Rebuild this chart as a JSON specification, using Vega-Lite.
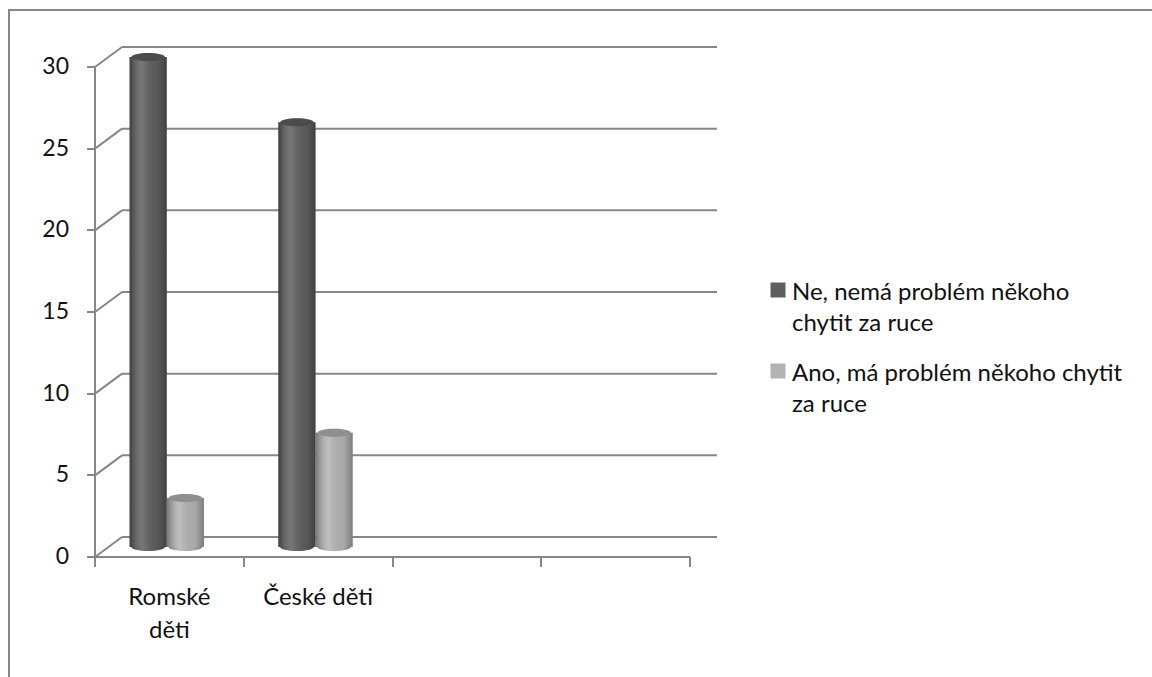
{
  "$schema": "https://vega.github.io/schema/vega-lite/v6.json",
  "width": 1160,
  "height": 680,
  "autosize": {"type": "none"},
  "padding": {"left": 9, "top": 10, "right": 0, "bottom": 0},
  "background": "white",
  "datasets": {
    "odpovedi": [
      {"skupina": "Romské děti", "odpoved": "Ne, nemá problém někoho chytit za ruce", "pocet": 30},
      {"skupina": "Romské děti", "odpoved": "Ano, má problém někoho chytit za ruce", "pocet": 3},
      {"skupina": "České děti", "odpoved": "Ne, nemá problém někoho chytit za ruce", "pocet": 26},
      {"skupina": "České děti", "odpoved": "Ano, má problém někoho chytit za ruce", "pocet": 7}
    ],
    "mrizka": [
      {"hodnota": 0}, {"hodnota": 5}, {"hodnota": 10}, {"hodnota": 15},
      {"hodnota": 20}, {"hodnota": 25}, {"hodnota": 30}
    ]
  },
  "layer": [
    {
      "data": {"name": "mrizka"},
      "mark": {"type": "rule", "color": "#878787", "strokeWidth": 2, "xOffset": 27, "x2Offset": 27, "yOffset": -20, "y2Offset": -20},
      "encoding": {
        "x": {"datum": "Romské děti", "bandPosition": 0, "type": "nominal",
              "scale": {"type": "band", "domain": ["Romské děti", "České děti", " ", "  "], "range": [86, 681], "paddingInner": 0, "paddingOuter": 0},
              "axis": {"title": null, "orient": "bottom", "offset": -133, "translate": 0, "tickBand": "extent", "labelAngle": 0,
                       "domainColor": "#878787", "domainWidth": 2, "tickColor": "#878787", "tickWidth": 2, "tickSize": 10,
                       "labelFont": "Lato", "labelFontSize": 24, "labelColor": "#111111", "labelPadding": 19, "labelLineHeight": 33,
                       "labelExpr": "datum.value == 'Romské děti' ? ['Romské', 'děti'] : datum.value"}},
        "x2": {"datum": "  ", "bandPosition": 1},
        "y": {"field": "hodnota", "type": "quantitative",
              "scale": {"domain": [0, 30], "range": [547, 57], "nice": false},
              "axis": {"title": null, "offset": -86, "translate": 0, "values": [0, 5, 10, 15, 20, 25, 30], "grid": false,
                       "domainColor": "#878787", "domainWidth": 2, "tickColor": "#878787", "tickWidth": 2, "tickSize": 8,
                       "labelFont": "Lato", "labelFontSize": 23, "labelColor": "#111111", "labelPadding": 18}},
        "y2": {"field": "hodnota"}
      }
    },
    {
      "data": {"name": "mrizka"},
      "mark": {"type": "rule", "color": "#878787", "strokeWidth": 2, "x2Offset": 27, "y2Offset": -20},
      "encoding": {
        "x": {"datum": "Romské děti", "bandPosition": 0, "type": "nominal"},
        "x2": {"datum": "Romské děti", "bandPosition": 0},
        "y": {"field": "hodnota", "type": "quantitative"},
        "y2": {"field": "hodnota"}
      }
    },
    {
      "mark": {"type": "rule", "color": "#878787", "strokeWidth": 2, "x2Offset": 27, "y2Offset": -20},
      "encoding": {
        "x": {"datum": "  ", "bandPosition": 1, "type": "nominal"},
        "x2": {"datum": "  ", "bandPosition": 1},
        "y": {"datum": 0, "type": "quantitative"},
        "y2": {"datum": 0}
      }
    },
    {
      "data": {"name": "odpovedi"},
      "mark": {"type": "point", "filled": true, "opacity": 1, "yOffset": -10,
               "shape": "M -1 0 A 1 0.24 0 1 0 1 0 A 1 0.24 0 1 0 -1 0 Z", "size": 1122},
      "encoding": {
        "x": {"field": "skupina", "type": "nominal"},
        "xOffset": {"field": "odpoved", "type": "nominal",
                    "scale": {"domain": ["Ne, nemá problém někoho chytit za ruce", "Ano, má problém někoho chytit za ruce"], "paddingInner": 0, "paddingOuter": 1.22, "align": 0.465}},
        "y": {"datum": 0, "type": "quantitative"},
        "color": {"field": "odpoved", "type": "nominal"}
      }
    },
    {
      "data": {"name": "odpovedi"},
      "mark": {"type": "point", "filled": true, "opacity": 1, "yOffset": -10,
               "shape": "M -1 0 A 1 0.24 0 1 0 1 0 A 1 0.24 0 1 0 -1 0 Z", "size": 1122,
               "fill": {"gradient": "linear", "x1": 0, "x2": 1, "y1": 0, "y2": 0,
                        "stops": [{"offset": 0, "color": "rgba(0,0,0,0.35)"}, {"offset": 0.35, "color": "rgba(255,255,255,0.15)"}, {"offset": 0.75, "color": "rgba(0,0,0,0.05)"}, {"offset": 1, "color": "rgba(0,0,0,0.3)"}]}},
      "encoding": {
        "x": {"field": "skupina", "type": "nominal"},
        "xOffset": {"field": "odpoved", "type": "nominal"},
        "y": {"datum": 0, "type": "quantitative"}
      }
    },
    {
      "data": {"name": "odpovedi"},
      "mark": {"type": "bar", "yOffset": -10, "y2Offset": -10},
      "encoding": {
        "x": {"field": "skupina", "type": "nominal"},
        "xOffset": {"field": "odpoved", "type": "nominal"},
        "y": {"field": "pocet", "type": "quantitative"},
        "color": {"field": "odpoved", "type": "nominal",
                  "scale": {"domain": ["Ne, nemá problém někoho chytit za ruce", "Ano, má problém někoho chytit za ruce"], "range": ["#5e5e5e", "#b3b3b3"]},
                  "legend": {"title": null, "orient": "none", "legendX": 757, "legendY": 259, "symbolType": "M -1 0.2 H 1 V 2.2 H -1 Z", "symbolSize": 225,
                             "symbolStrokeWidth": 0, "labelFont": "Lato", "labelFontSize": 24, "labelColor": "#111111", "labelOffset": 2,
                             "labelLimit": 0, "rowPadding": 14, "labelBaseline": "top",
                             "labelExpr": "datum.value == 'Ne, nemá problém někoho chytit za ruce' ? ['Ne, nemá problém někoho', 'chytit za ruce'] : ['Ano, má problém někoho chytit', 'za ruce']"}}
      }
    },
    {
      "data": {"name": "odpovedi"},
      "mark": {"type": "bar", "yOffset": -10, "y2Offset": -10,
               "fill": {"gradient": "linear", "x1": 0, "x2": 1, "y1": 0, "y2": 0,
                        "stops": [{"offset": 0, "color": "rgba(0,0,0,0.35)"}, {"offset": 0.35, "color": "rgba(255,255,255,0.15)"}, {"offset": 0.75, "color": "rgba(0,0,0,0.05)"}, {"offset": 1, "color": "rgba(0,0,0,0.3)"}]}},
      "encoding": {
        "x": {"field": "skupina", "type": "nominal"},
        "xOffset": {"field": "odpoved", "type": "nominal"},
        "y": {"field": "pocet", "type": "quantitative"}
      }
    },
    {
      "data": {"name": "odpovedi"},
      "mark": {"type": "point", "filled": true, "opacity": 1, "yOffset": -10,
               "shape": "M -1 0 A 1 0.24 0 1 0 1 0 A 1 0.24 0 1 0 -1 0 Z", "size": 1122},
      "encoding": {
        "x": {"field": "skupina", "type": "nominal"},
        "xOffset": {"field": "odpoved", "type": "nominal"},
        "y": {"field": "pocet", "type": "quantitative"},
        "color": {"field": "odpoved", "type": "nominal"}
      }
    },
    {
      "data": {"name": "odpovedi"},
      "mark": {"type": "point", "filled": true, "opacity": 1, "yOffset": -10, "fill": "black", "fillOpacity": 0.2,
               "shape": "M -1 0 A 1 0.24 0 1 0 1 0 A 1 0.24 0 1 0 -1 0 Z", "size": 1122},
      "encoding": {
        "x": {"field": "skupina", "type": "nominal"},
        "xOffset": {"field": "odpoved", "type": "nominal"},
        "y": {"field": "pocet", "type": "quantitative"}
      }
    }
  ],
  "config": {
    "view": {"stroke": "#878787", "strokeWidth": 2},
    "font": "Lato",
    "style": {"guide-label": {"lineHeight": 31}}
  }
}
